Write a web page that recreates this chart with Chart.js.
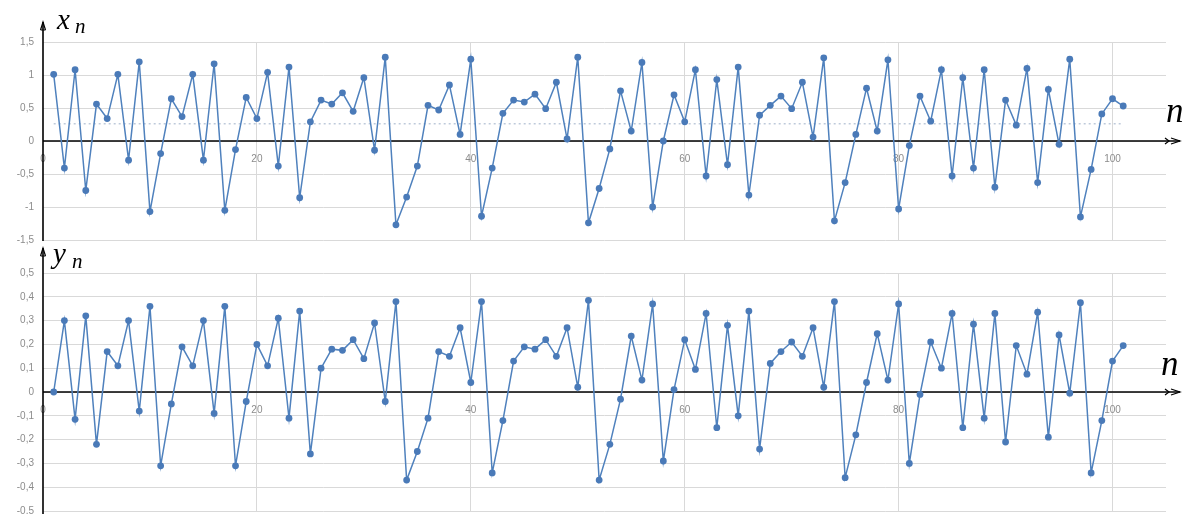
<!DOCTYPE html>
<html>
<head>
<meta charset="utf-8">
<script src="https://cdn.jsdelivr.net/npm/chart.js@4.4.1/dist/chart.umd.min.js"></script>
<style>
  body { margin: 0; background: #fff; }
  #wrap { position: relative; width: 1194px; height: 514px; overflow: hidden; }
  canvas { position: absolute; left: 0; }
  .lbl { position: absolute; font-family: "Liberation Serif", "DejaVu Serif", serif; font-style: italic; line-height: 1; color: #000; white-space: nowrap; }
</style>
</head>
<body>
<div id="wrap">
  <canvas id="xchart" width="1194" height="255" style="top:0"></canvas>
  <canvas id="ychart" width="1194" height="281" style="top:245px"></canvas>
  <span class="lbl" style="left:57px;top:5px;font-size:29px">x</span>
  <span class="lbl" style="left:75px;top:16px;font-size:21px">n</span>
  <span class="lbl" style="left:1166px;top:93px;font-size:35px">n</span>
  <span class="lbl" style="left:53px;top:239px;font-size:29px">y</span>
  <span class="lbl" style="left:72px;top:251px;font-size:21px">n</span>
  <span class="lbl" style="left:1161px;top:346px;font-size:35px">n</span>
</div>
<script>
// n = 1..101
const nVals = Array.from({length: 101}, (_, i) => i + 1);

const xVals = [1.01, -0.41, 1.08, -0.75, 0.56, 0.34, 1.01, -0.29, 1.20, -1.07,
  -0.19, 0.64, 0.37, 1.01, -0.29, 1.17, -1.05, -0.13, 0.66, 0.34,
  1.04, -0.38, 1.12, -0.86, 0.29, 0.62, 0.56, 0.73, 0.45, 0.96,
  -0.14, 1.27, -1.27, -0.85, -0.38, 0.54, 0.47, 0.85, 0.10, 1.24,
  -1.14, -0.41, 0.42, 0.62, 0.59, 0.71, 0.49, 0.89, 0.03, 1.27,
  -1.24, -0.72, -0.12, 0.76, 0.15, 1.19, -1.00, 0.00, 0.70, 0.29,
  1.08, -0.53, 0.93, -0.36, 1.12, -0.82, 0.39, 0.54, 0.68, 0.49,
  0.89, 0.06, 1.26, -1.21, -0.63, 0.10, 0.80, 0.15, 1.23, -1.03,
  -0.07, 0.68, 0.30, 1.08, -0.53, 0.96, -0.41, 1.08, -0.70, 0.62,
  0.24, 1.10, -0.63, 0.78, -0.05, 1.24, -1.15, -0.43, 0.41, 0.64,
  0.53];

const yVals = [0.00, 0.30, -0.115, 0.32, -0.22, 0.17, 0.11, 0.30, -0.08, 0.36,
  -0.31, -0.05, 0.19, 0.11, 0.30, -0.09, 0.36, -0.31, -0.04, 0.20,
  0.11, 0.31, -0.11, 0.34, -0.26, 0.10, 0.18, 0.175, 0.22, 0.14,
  0.29, -0.04, 0.38, -0.37, -0.25, -0.11, 0.17, 0.15, 0.27, 0.04,
  0.38, -0.34, -0.12, 0.13, 0.19, 0.18, 0.22, 0.15, 0.27, 0.02,
  0.385, -0.37, -0.22, -0.03, 0.235, 0.05, 0.37, -0.29, 0.01, 0.22,
  0.095, 0.33, -0.15, 0.28, -0.10, 0.34, -0.24, 0.12, 0.17, 0.21,
  0.15, 0.27, 0.02, 0.38, -0.36, -0.18, 0.04, 0.245, 0.05, 0.37,
  -0.30, -0.01, 0.21, 0.10, 0.33, -0.15, 0.285, -0.11, 0.33, -0.21,
  0.195, 0.075, 0.335, -0.19, 0.24, -0.005, 0.375, -0.34, -0.12, 0.13,
  0.195];

// dotted mean line of x_n
const trendN = [1, 101];
const trendX = [0.26, 0.26];

const xTicks = [0, 20, 40, 60, 80, 100];

const BLUE = '#4f81bd';
const GRID = '#d9d9d9';
const TICK = '#8c8c8c';

function fmt(v) {
  return String(Number(v.toFixed(1))).replace('.', ',');
}

// black axes with arrows, like the hand drawn ones in the picture
const axisArrows = {
  id: 'axisArrows',
  beforeDatasetsDraw(chart, args, opts) {
    const ctx = chart.ctx;
    const x0 = chart.scales.x.getPixelForValue(0);
    const y0 = chart.scales.y.getPixelForValue(0);
    ctx.save();
    ctx.strokeStyle = '#000';
    ctx.lineWidth = 1.6;
    ctx.beginPath();
    ctx.moveTo(x0, opts.top);
    ctx.lineTo(x0, opts.bottom);
    ctx.moveTo(x0, y0);
    ctx.lineTo(opts.right, y0);
    ctx.stroke();
    ctx.lineWidth = 1.2;
    // up arrow
    ctx.beginPath();
    ctx.moveTo(x0 - 2.5, opts.top + 8);
    ctx.lineTo(x0, opts.top);
    ctx.lineTo(x0 + 2.5, opts.top + 8);
    ctx.moveTo(x0 - 2.5, opts.top + 8);
    ctx.lineTo(x0 + 2.5, opts.top + 8);
    ctx.stroke();
    // right arrow
    const r = opts.right;
    ctx.beginPath();
    ctx.moveTo(r - 9, y0 - 3);
    ctx.lineTo(r, y0);
    ctx.lineTo(r - 9, y0 + 3);
    ctx.moveTo(r - 15, y0 - 3);
    ctx.lineTo(r - 11, y0);
    ctx.lineTo(r - 15, y0 + 3);
    ctx.stroke();
    ctx.restore();
  }
};

function makeChart(el, values, yMin, yMax, step, pad, arrows, withTrend) {
  const datasets = [{
    data: nVals.map((n, i) => ({x: n, y: values[i]})),
    borderColor: BLUE,
    backgroundColor: '#4a7ab8',
    borderWidth: 1.5,
    pointRadius: 3.4,
    pointBorderWidth: 0,
    tension: 0,
    order: 1
  }];
  if (withTrend) {
    datasets.push({
      data: trendN.map((n, i) => ({x: n, y: trendX[i]})),
      borderColor: '#9fb0c8',
      borderWidth: 1,
      borderDash: [2, 3],
      pointRadius: 0,
      order: 2
    });
  }
  return new Chart(el, {
    type: 'line',
    data: { datasets: datasets },
    options: {
      responsive: false,
      animation: false,
      layout: { padding: pad },
      plugins: {
        legend: { display: false },
        tooltip: { enabled: false },
        axisArrows: arrows
      },
      scales: {
        x: {
          type: 'linear',
          position: { y: 0 },
          min: 0,
          max: 105,
          afterBuildTicks: (s) => { s.ticks = xTicks.map(v => ({value: v})); },
          afterFit: (s) => { s.height = 0; },
          border: { display: false },
          grid: {
            drawTicks: false,
            color: (c) => (c.tick && c.tick.value === 0) ? 'rgba(0,0,0,0)' : GRID
          },
          ticks: {
            color: TICK,
            padding: 12,
            maxRotation: 0,
            font: { family: 'Liberation Sans', size: 10 }
          }
        },
        y: {
          min: yMin,
          max: yMax,
          afterFit: (s) => { s.width = 43; },
          border: { display: false },
          grid: { drawTicks: false, color: GRID },
          ticks: {
            stepSize: step,
            color: TICK,
            padding: 9,
            font: { family: 'Liberation Sans', size: 10 },
            callback: (v) => fmt(v)
          }
        }
      }
    },
    plugins: [axisArrows]
  });
}

makeChart(document.getElementById('xchart'), xVals, -1.5, 1.5, 0.5,
  { top: 42, bottom: 0, left: 0, right: 28 },
  { top: 22, bottom: 241, right: 1180 }, true);

makeChart(document.getElementById('ychart'), yVals, -0.5, 0.5, 0.1,
  { top: 28, bottom: 0, left: 0, right: 28 },
  { top: 3, bottom: 269, right: 1180 }, false);
</script>
</body>
</html>
